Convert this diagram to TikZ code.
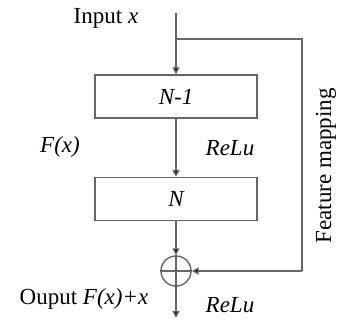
\documentclass[tikz,border=0pt]{standalone}
\usepackage{fontspec}
\setmainfont{Liberation Serif}
\usetikzlibrary{arrows.meta}
\begin{document}
\begin{tikzpicture}[x=1pt,y=-1pt,
  ln/.style={draw=black!60,line width=1.4pt},
  arr/.style={ln,-{Triangle[length=7pt,width=7pt,fill=black]}},
  blk/.style={ln,minimum width=162pt,minimum height=43pt,inner sep=0pt,font=\fontsize{23}{27}\selectfont\itshape},
  lbl/.style={font=\fontsize{23}{27}\selectfont,inner sep=0pt}]
\useasboundingbox (0,0) rectangle (342,320);
\coordinate (top) at (176,13);
\coordinate (br) at (176,39);
\coordinate (brr) at (302,39);
\node[blk] (b1) at (176,96.5) {N-1};
\node[blk] (b2) at (176,199) {N};
\node[ln,circle,minimum size=30pt,inner sep=0pt] (sum) at (176,271) {};
\coordinate (rr) at (302,271);
\coordinate (out) at (176,318);
\draw[ln] (sum.north) -- (sum.south) (sum.west) -- (sum.east);
\draw[arr] (top) -- (b1.north);
\draw[ln] (br) -- (brr) -- (rr);
\draw[arr] (rr) -- (sum.east);
\draw[arr] (b1.south) -- (b2.north);
\draw[arr] (b2.south) -- (sum.north);
\draw[arr] (sum.south) -- (out);
\node[lbl] (in) at (106,18) {Input \textit{x}};
\node[lbl] (fx) at (60,147) {\textit{F(x)}};
\node[lbl] (r1) at (230,148) {\textit{ReLu}};
\node[lbl] (o) at (84,299) {Ouput \textit{F(x)+x}};
\node[lbl] (r2) at (230,305) {\textit{ReLu}};
\node[lbl,rotate=90] (fm) at (326,166) {Feature mapping};
\end{tikzpicture}
\end{document}
